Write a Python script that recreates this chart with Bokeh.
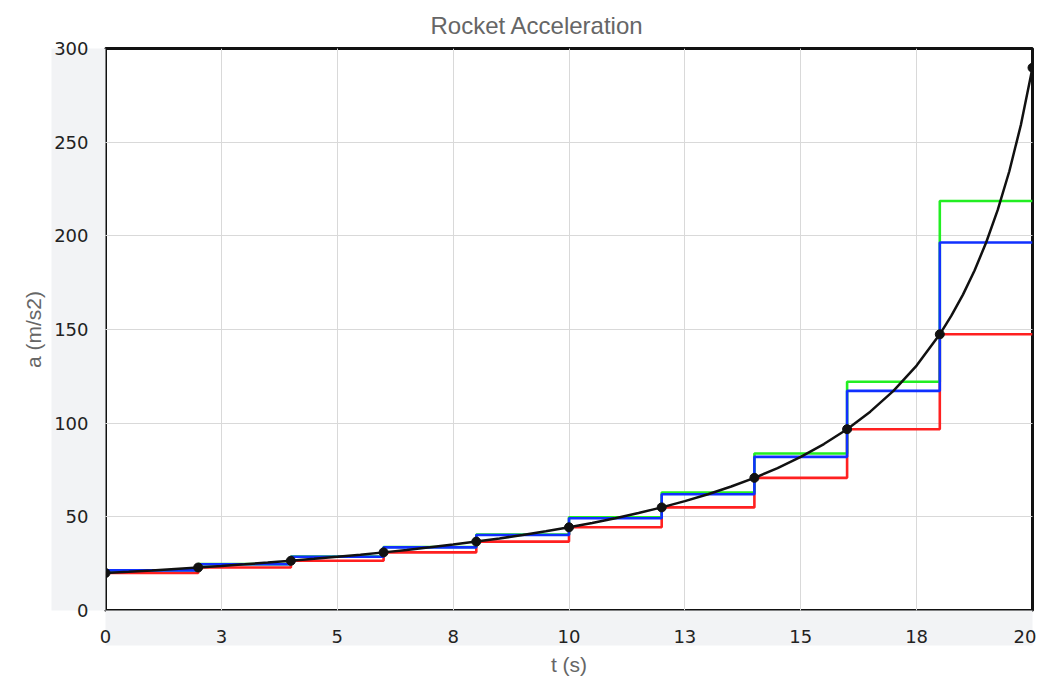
from bokeh.plotting import figure
from bokeh.models import FixedTicker, LinearAxis, Range1d, Grid
from bokeh.embed import file_html
from bokeh.resources import INLINE

# Black curve
curve_t = [0, 0.5, 1, 1.5, 2, 2.5, 3, 3.5, 4, 4.5, 5, 5.5, 6, 6.5, 7, 7.5, 8, 8.5, 9, 9.5,
           10, 10.5, 11, 11.5, 12, 12.5, 13, 13.5, 14, 14.5, 15, 15.5, 16, 16.5, 17, 17.5,
           18, 18.25, 18.5, 18.75, 19, 19.25, 19.5, 19.75, 20]
curve_a = [20.00, 20.68, 21.40, 22.16, 22.95, 23.78, 24.65, 25.57, 26.54, 27.57, 28.66, 29.81,
           31.03, 32.33, 33.71, 35.19, 36.78, 38.48, 40.30, 42.27, 44.41, 46.72, 49.24, 52.00,
           55.03, 58.37, 62.07, 66.19, 70.82, 76.05, 82.01, 88.85, 96.79, 106.13, 117.25, 130.74,
           147.43, 157.36, 168.63, 181.52, 196.42, 213.84, 234.47, 259.30, 289.74]

# Sample points
knot_t = [0, 2, 4, 6, 8, 10, 12, 14, 16, 18, 20]
knot_a = [20.0, 22.95, 26.54, 31.03, 36.78, 44.41, 55.03, 70.82, 96.79, 147.43, 289.74]

# Step approximations on each interval [t_k, t_k+1]
left_vals = [20.0, 22.95, 26.54, 31.03, 36.78, 44.41, 55.03, 70.82, 96.79, 147.43]
mid_vals = [21.40, 24.65, 28.66, 33.71, 40.30, 49.24, 62.07, 82.01, 117.25, 196.42]
trap_vals = [21.48, 24.75, 28.79, 33.91, 40.60, 49.72, 62.93, 83.81, 122.11, 218.59]

x_ticks = [0, 2.5, 5, 7.5, 10, 12.5, 15, 17.5, 20]
x_tick_labels = ["0", "3", "5", "8", "10", "13", "15", "18", "20"]
y_ticks = [0, 50, 100, 150, 200, 250, 300]

GREY_BG = "#f2f3f5"

p = figure(width=1036, height=679, output_backend="svg", toolbar_location=None,
           x_range=Range1d(0, 20), y_range=Range1d(0, 300),
           x_axis_location=None, y_axis_location=None,
           min_border_left=105, min_border_right=4, min_border_top=47, min_border_bottom=69,
           background_fill_color="white", border_fill_color="white")

p.title.text = "Rocket Acceleration"
p.title.text_font = "Liberation Sans"
p.title.text_font_size = "24px"
p.title.text_font_style = "normal"
p.title.text_color = "#666666"
p.title.align = "left"
p.title.offset = 325
p.title.standoff = 19

p.outline_line_color = "#111111"
p.outline_line_width = 3
p.outline_line_alpha = 1

# tick axes
xax = LinearAxis(ticker=FixedTicker(ticks=x_ticks),
                 major_label_overrides={t: l for t, l in zip(x_ticks, x_tick_labels)})
yax = LinearAxis(ticker=FixedTicker(ticks=y_ticks))
for ax in (xax, yax):
    ax.axis_line_color = None
    ax.major_tick_line_color = None
    ax.minor_tick_line_color = None
    ax.major_label_text_font = "DejaVu Sans"
    ax.major_label_text_font_size = "18px"
    ax.major_label_text_color = "#222222"
    ax.background_fill_color = GREY_BG
xax.major_label_standoff = 13
yax.major_label_standoff = 11
p.add_layout(xax, "below")
p.add_layout(yax, "left")

# label axes
xlab = LinearAxis(ticker=FixedTicker(ticks=[]), axis_label="t (s)")
ylab = LinearAxis(ticker=FixedTicker(ticks=[]), axis_label="a (m/s2)")
for ax in (xlab, ylab):
    ax.axis_line_color = None
    ax.major_tick_line_color = None
    ax.minor_tick_line_color = None
    ax.axis_label_text_font = "Liberation Sans"
    ax.axis_label_text_font_size = "21px"
    ax.axis_label_text_font_style = "normal"
    ax.axis_label_text_color = "#666666"
xlab.axis_label_standoff = 7
ylab.axis_label_standoff = 7
p.add_layout(xlab, "below")
p.add_layout(ylab, "left")

# grids
gx = Grid(dimension=0, ticker=FixedTicker(ticks=x_ticks), grid_line_color="#d9d9d9", grid_line_width=1)
gy = Grid(dimension=1, ticker=FixedTicker(ticks=y_ticks), grid_line_color="#d9d9d9", grid_line_width=1)
p.add_layout(gx)
p.add_layout(gy)

def step_y(vals):
    return list(vals) + [vals[-1]]

p.step(knot_t, step_y(left_vals), mode="after", line_color="#ff2020", line_width=2.6)
p.step(knot_t, step_y(trap_vals), mode="after", line_color="#22ee22", line_width=2.6)
p.step(knot_t, step_y(mid_vals), mode="after", line_color="#1030ff", line_width=2.6)
p.line(curve_t, curve_a, line_color="#111111", line_width=2.5)
p.scatter(knot_t, knot_a, size=9, color="#111111")

open("out.html", "w").write(file_html(p, INLINE))
